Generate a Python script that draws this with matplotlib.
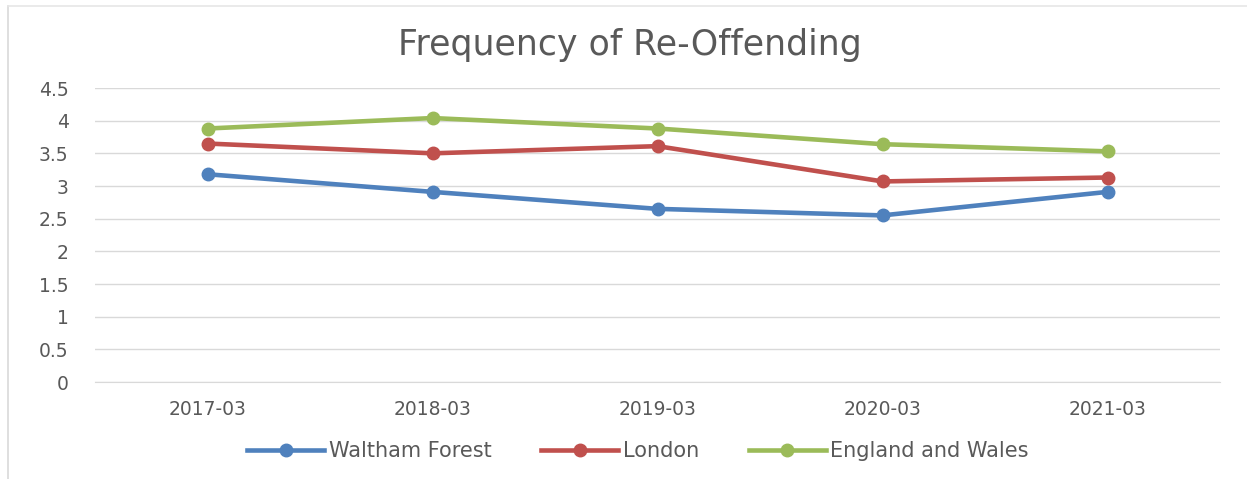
import matplotlib
matplotlib.use("Agg")
import matplotlib.pyplot as plt
from matplotlib.lines import Line2D

categories = ["2017-03", "2018-03", "2019-03", "2020-03", "2021-03"]
waltham_forest = [3.18, 2.91, 2.65, 2.55, 2.91]
london = [3.65, 3.50, 3.61, 3.07, 3.13]
england_wales = [3.88, 4.04, 3.88, 3.64, 3.53]
yticks = [0, 0.5, 1, 1.5, 2, 2.5, 3, 3.5, 4, 4.5]
ytick_labels = ["0", "0.5", "1", "1.5", "2", "2.5", "3", "3.5", "4", "4.5"]

plt.rcParams["font.family"] = ["DejaVu Sans"]
W, H = 1247, 479
fig = plt.figure(figsize=(W / 100, H / 100), dpi=100)
ax = fig.add_axes([95 / W, 1 - 382 / H, (1220 - 95) / W, (382 - 88) / H])

txt = "#595959"
series = [("Waltham Forest", waltham_forest, "#4F81BD"),
          ("London", london, "#C0504D"),
          ("England and Wales", england_wales, "#9BBB59")]
x = list(range(len(categories)))
for name, vals, col in series:
    ax.plot(x, vals, color=col, lw=3.3, marker="o", ms=9, label=name,
            solid_capstyle="round")

ax.set_xlim(-0.5, len(categories) - 0.5)
ax.set_ylim(0, 4.5)
ax.set_yticks(yticks)
ax.set_yticklabels(ytick_labels)
ax.set_xticks(x)
ax.set_xticklabels(categories)
ax.grid(axis="y", color="#d9d9d9", lw=1)
ax.set_axisbelow(True)
for s in ["top", "right", "left"]:
    ax.spines[s].set_visible(False)
ax.spines["bottom"].set_color("#d9d9d9")
ax.tick_params(axis="both", length=0, colors=txt, labelsize=13.5)
ax.tick_params(axis="y", pad=19)
ax.tick_params(axis="x", pad=13)

fig.text(630 / W, 1 - 45 / H, "Frequency of Re-Offending", ha="center", va="center",
         fontsize=25, color=txt)

handles = [Line2D([0], [0], color=c, lw=3.3, marker="o", ms=9) for _, _, c in series]
fig.legend(handles, [n for n, _, _ in series], loc="center", bbox_to_anchor=(638 / W, 1 - 451 / H),
           ncol=3, frameon=False, fontsize=15, labelcolor=txt, handlelength=3.7,
           columnspacing=2.4, handletextpad=0.2)

# chart border
fig.add_artist(Line2D([8 / W, 8 / W], [0, 1 - 6 / H], color="#d9d9d9", lw=1.2, transform=fig.transFigure))
fig.add_artist(Line2D([8 / W, 1], [1 - 6 / H, 1 - 6 / H], color="#e6e6e6", lw=1.2, transform=fig.transFigure))

fig.savefig("out.png", dpi=100)
